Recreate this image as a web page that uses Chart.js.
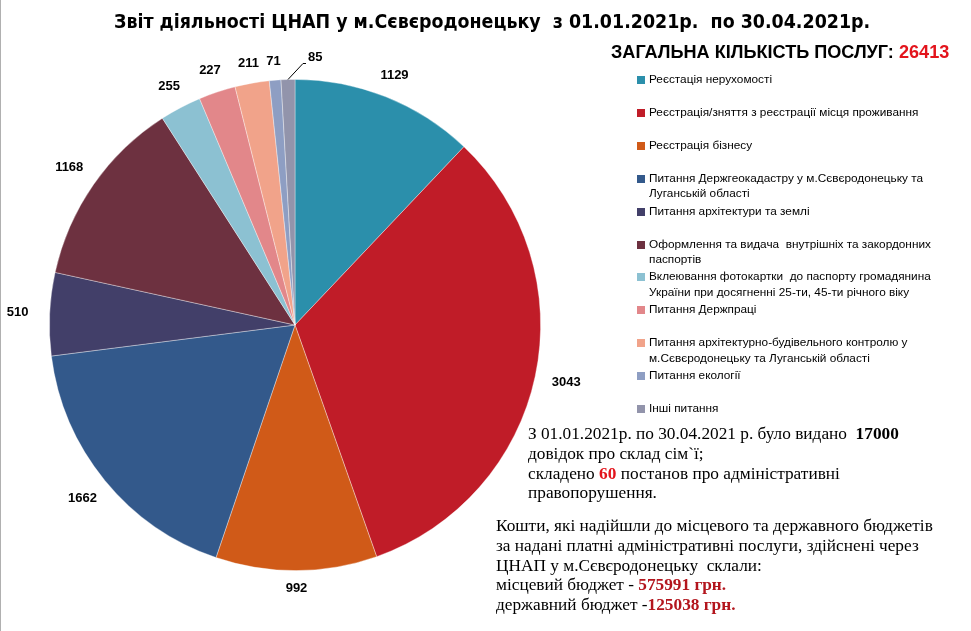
<!DOCTYPE html>
<html>
<head>
<meta charset="utf-8">
<script src="https://cdn.jsdelivr.net/npm/chart.js@4.4.0/dist/chart.umd.min.js"></script>
<style>
  body { margin: 0; background: #fff; }
  #wrap { position: relative; width: 971px; height: 631px; overflow: hidden; border-left: 1px solid #b0b0b0; box-sizing: border-box; }
  #pie { position: absolute; left: 0; top: 0; }
  .title { position: absolute; left: 113px; top: 10px; font: bold 19.4px "Liberation Sans Narrow", "DejaVu Sans Condensed", sans-serif; color: #000; white-space: pre; }
  .total { position: absolute; left: 610px; top: 42px; font: bold 18.1px "Liberation Sans", Arial, sans-serif; color: #000; white-space: nowrap; }
  .total b { color: #e3141c; }
  #legend { position: absolute; left: 636px; top: 72px; font: 11.8px "Liberation Sans", Arial, sans-serif; color: #000; }
  .item { position: absolute; left: 0; width: 330px; line-height: 15.5px; padding-left: 12px; white-space: pre; }
  .item span { position: absolute; left: 0; top: 4px; width: 8px; height: 8px; }
  .note { position: absolute; font: 17.3px "Liberation Serif", "Times New Roman", serif; color: #000; line-height: 19.8px; white-space: pre; }
  .red { color: #e3141c; font-weight: bold; }
  .dred { color: #b3151d; font-weight: bold; }
</style>
</head>
<body>
<div id="wrap">
  <canvas id="pie" width="971" height="631"></canvas>
  <div class="title">Звіт діяльності ЦНАП у м.Сєвєродонецьку  з 01.01.2021р.  по 30.04.2021р.</div>
  <div class="total">ЗАГАЛЬНА КІЛЬКІСТЬ ПОСЛУГ: <b>26413</b></div>
  <div id="legend"></div>
  <div class="note" style="left:527px; top:424px;">З 01.01.2021р. по 30.04.2021 р. було видано  <b>17000</b>
довідок про склад сім`ї;
складено <span class="red">60</span> постанов про адміністративні
правопорушення.</div>
  <div class="note" style="left:495px; top:516px;">Кошти, які надійшли до місцевого та державного бюджетів
за надані платні адміністративні послуги, здійснені через
ЦНАП у м.Сєвєродонецьку  склали:
місцевий бюджет - <span class="dred">575991 грн.</span>
державний бюджет -<span class="dred">125038 грн.</span></div>
</div>
<script>
// categories (legend text, line breaks as in the original legend)
const categories = [
  'Реєстація нерухомості',
  'Реєстрація/зняття з реєстрації місця проживання',
  'Реєстрація бізнесу',
  'Питання Держгеокадастру у м.Сєвєродонецьку та\nЛуганській області',
  'Питання архітектури та землі',
  'Оформлення та видача  внутрішніх та закордонних\nпаспортів',
  'Вклеювання фотокартки  до паспорту громадянина\nУкраїни при досягненні 25-ти, 45-ти річного віку',
  'Питання Держпраці',
  'Питання архітектурно-будівельного контролю у\nм.Сєвєродонецьку та Луганській області',
  'Питання екології',
  'Інші питання'
];
const services = [1129, 3043, 992, 1662, 510, 1168, 255, 227, 211, 71, 85];
const sliceColors = ['#2b8fab', '#c01c28', '#d05a18', '#33598b', '#423f69', '#6d3140',
  '#8cc1d2', '#e2878a', '#f1a38a', '#8e9ec3', '#9294ab'];

// html legend built from the arrays
const legend = document.getElementById('legend');
categories.forEach((name, i) => {
  const div = document.createElement('div');
  div.className = 'item';
  div.style.top = (i * 32.9) + 'px';
  div.textContent = name;
  const box = document.createElement('span');
  box.style.background = sliceColors[i];
  div.prepend(box);
  legend.appendChild(div);
});

// value labels outside the pie
const outsideLabels = {
  id: 'outsideLabels',
  afterDatasetsDraw(chart) {
    const ctx = chart.ctx;
    const arcs = chart.getDatasetMeta(0).data;
    ctx.save();
    ctx.font = 'bold 13px "Liberation Sans", Arial, sans-serif';
    ctx.fillStyle = '#000';
    ctx.textAlign = 'center';
    ctx.textBaseline = 'middle';
    arcs.forEach((arc, i) => {
      const mid = (arc.startAngle + arc.endAngle) / 2;
      const R = arc.outerRadius;
      const text = String(services[i]);
      if (i === arcs.length - 1) {
        // last thin slice: label pushed right with a leader line
        const ex = arc.x + R * Math.cos(mid), ey = arc.y + R * Math.sin(mid);
        ctx.strokeStyle = '#000';
        ctx.lineWidth = 1;
        ctx.beginPath();
        ctx.moveTo(ex, ey);
        ctx.lineTo(ex + 15, ey - 16);
        ctx.lineTo(ex + 18, ey - 16);
        ctx.stroke();
        ctx.textAlign = 'left';
        ctx.fillText(text, ex + 20, ey - 22);
        ctx.textAlign = 'center';
        return;
      }
      const r = R + 18 + 14 * Math.abs(Math.cos(mid));
      ctx.fillText(text, arc.x + r * Math.cos(mid), arc.y + r * Math.sin(mid));
    });
    ctx.restore();
  }
};

new Chart(document.getElementById('pie'), {
  type: 'pie',
  data: {
    labels: categories,
    datasets: [{
      data: services,
      backgroundColor: sliceColors,
      borderColor: 'rgba(255,255,255,0.45)',
      borderWidth: 0.8
    }]
  },
  options: {
    responsive: false,
    animation: false,
    layout: { padding: { left: 48, right: 431, top: 79, bottom: 60 } },
    plugins: {
      legend: { display: false },
      tooltip: { enabled: false }
    }
  },
  plugins: [outsideLabels]
});
</script>
</body>
</html>
